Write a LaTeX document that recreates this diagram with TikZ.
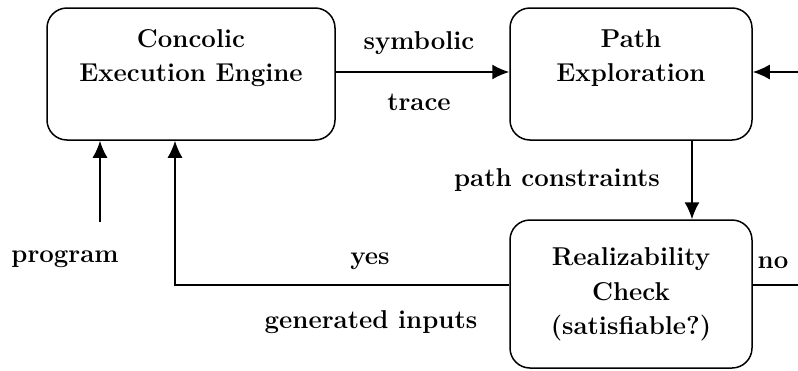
\documentclass[tikz,border=0pt]{standalone}
\usetikzlibrary{arrows.meta}
\begin{document}
\begin{tikzpicture}[x=1pt,y=-1pt,
  box/.style={draw,line width=1.5pt,rounded corners=20pt,inner sep=0pt},
  txt/.style={font=\fontsize{25.8}{30}\selectfont\bfseries,inner sep=0pt,anchor=base},
  conn/.style={line width=1.6pt},
  arr/.style={conn,-{Latex[length=17pt,width=15pt]}}]
\useasboundingbox (0,0) rectangle (798,370);
\node[box,minimum width=288pt,minimum height=132pt] (ce) at (191,74) {};
\node[box,minimum width=242pt,minimum height=132pt] (pe) at (631,74) {};
\node[box,minimum width=242pt,minimum height=148pt] (rc) at (631,294) {};
\node[txt] (ce1) at (191,47.7) {Concolic};
\node[txt] (ce2) at (191,81.7) {Execution Engine};
\node[txt] (pe1) at (631,47.7) {Path};
\node[txt] (pe2) at (631,81.7) {Exploration};
\node[txt] (rc1) at (631,265) {Realizability};
\node[txt] (rc2) at (631,300) {Check};
\node[txt] (rc3) at (631,334) {(satisfiable?)};
\node[txt] (lsym) at (419,49) {symbolic};
\node[txt] (ltr) at (419,110) {trace};
\node[txt] (lpc) at (557,186) {path constraints};
\node[txt] (lprog) at (65,262) {program};
\node[txt] (lyes) at (370,264) {yes};
\node[txt] (lgen) at (371,328) {generated inputs};
\node[txt] (lno) at (773,268) {no};
\coordinate (pstart) at (100,222);
\coordinate (inR) at (798,72);
\coordinate (noend) at (798,285);
\draw[arr] ([yshift=2pt]ce.east) -- ([yshift=2pt]pe.east -| pe.west);
\draw[arr] (inR) -- (inR -| pe.east);
\draw[arr] (pstart) -- (pstart |- ce.south);
\draw[arr] ([xshift=61pt]pe.south) -- ([xshift=61pt]rc.north);
\draw[arr] ([yshift=9pt]rc.west) -| ([xshift=-16pt]ce.south);
\draw[conn] ([yshift=9pt]rc.east) -- (noend);
\end{tikzpicture}
\end{document}
